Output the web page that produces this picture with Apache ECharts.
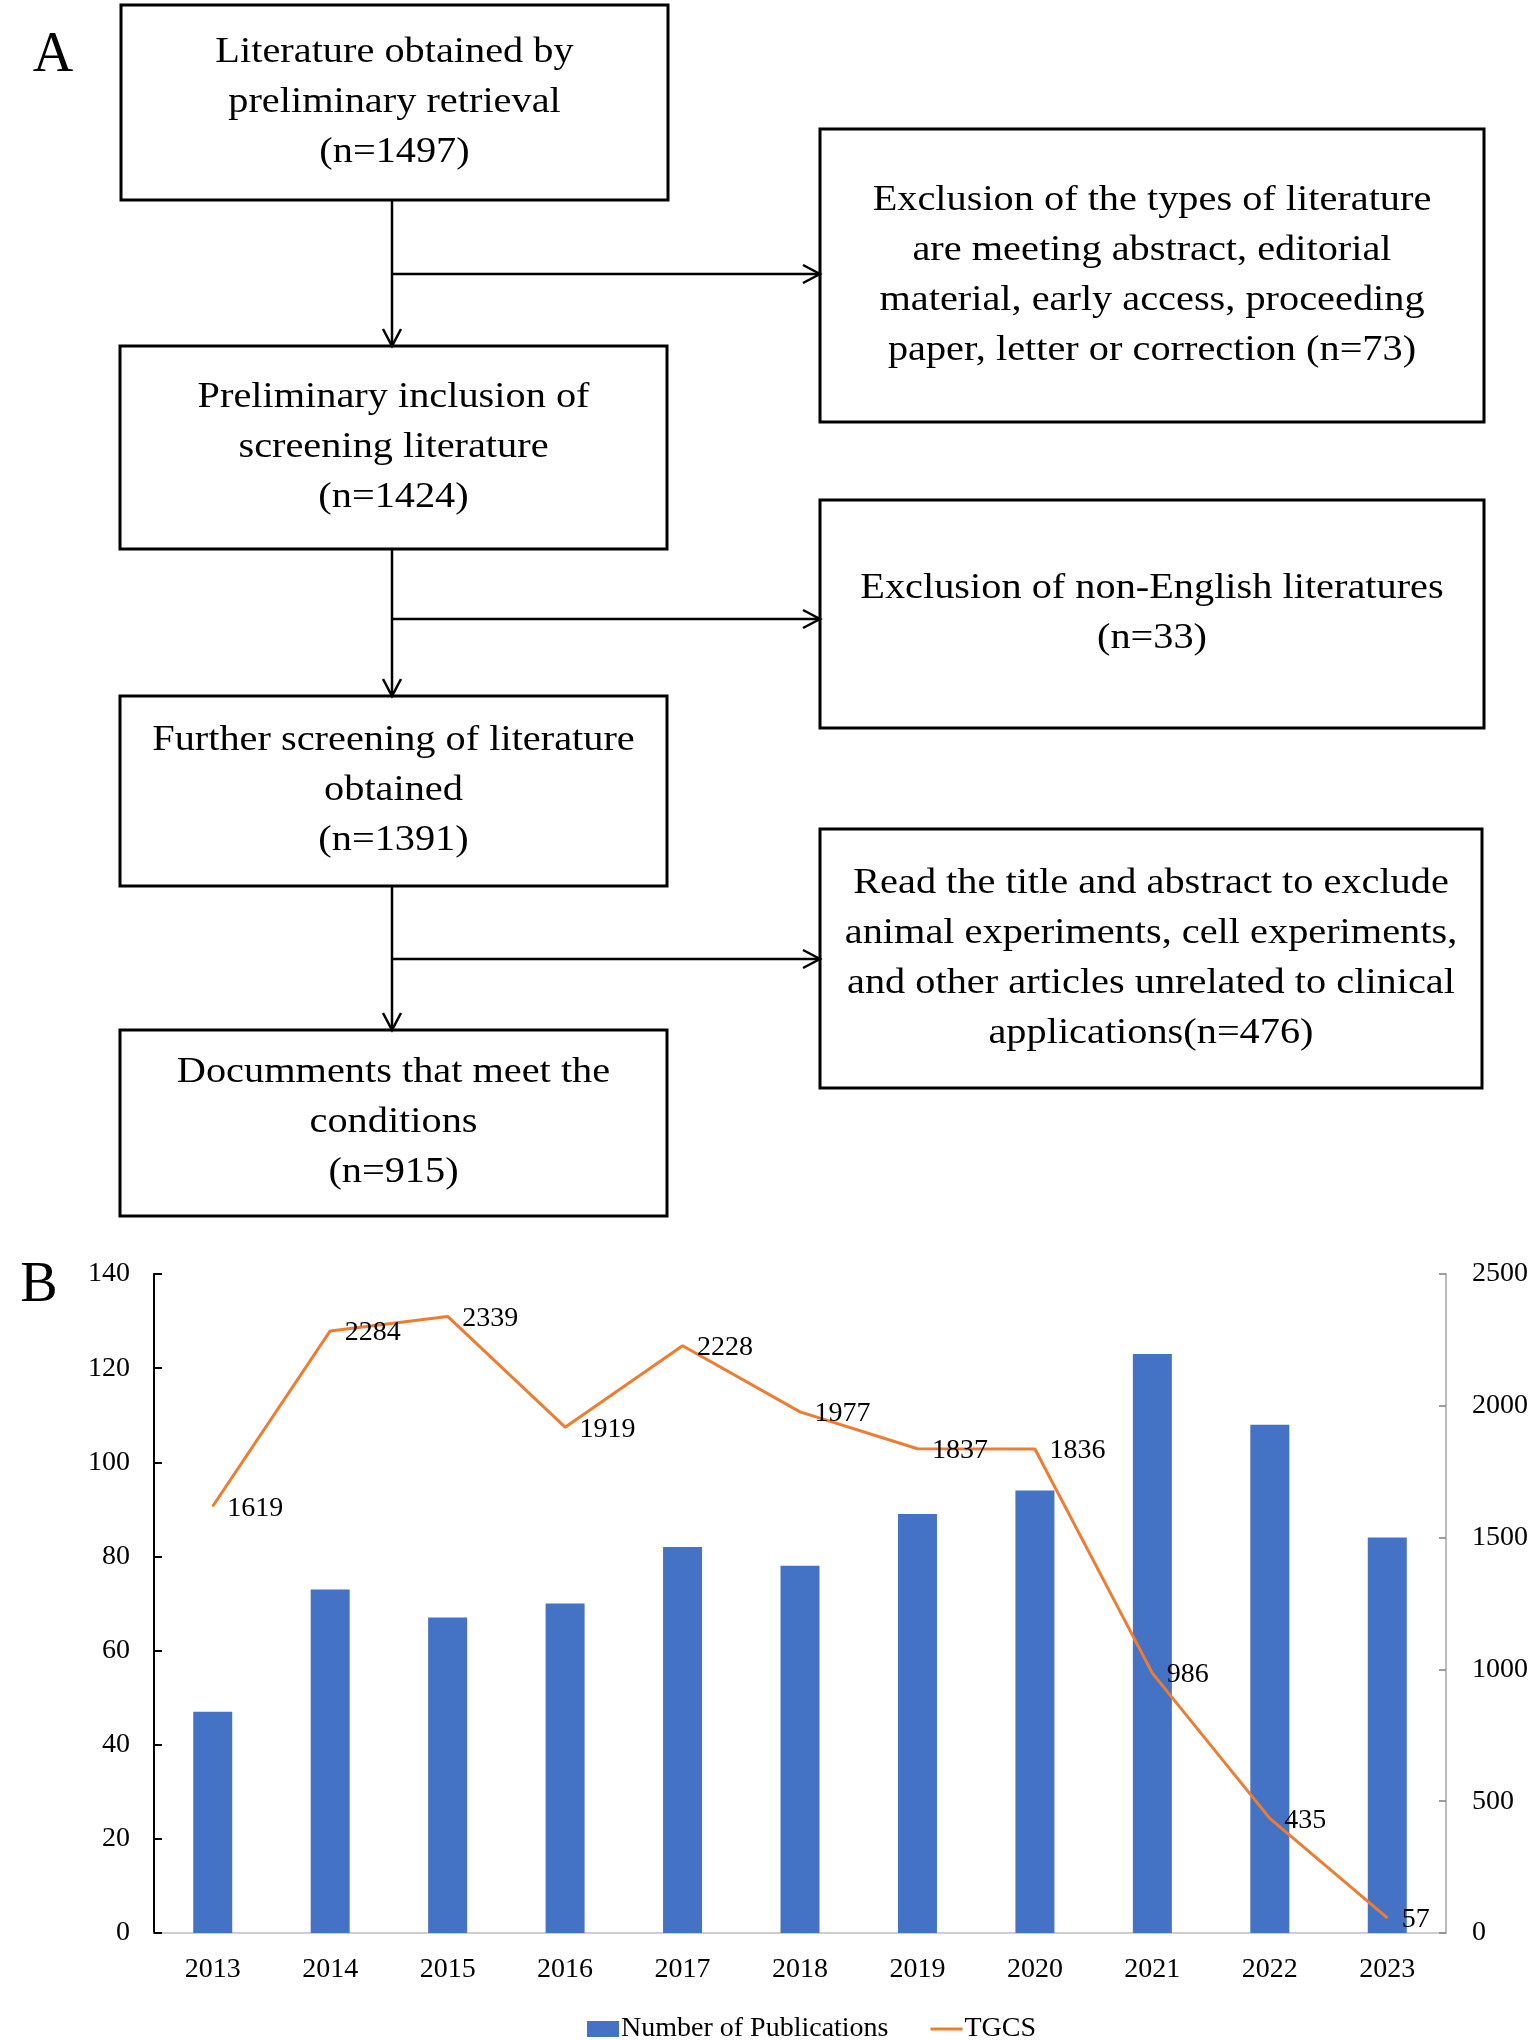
<!DOCTYPE html>
<html>
<head>
<meta charset="utf-8">
<script src="https://cdn.jsdelivr.net/npm/echarts@6/dist/echarts.min.js"></script>
<style>
html,body{margin:0;padding:0;background:#fff;}
#main{width:1535px;height:2040px;}
</style>
</head>
<body>
<div id="main"></div>
<script>
// ---- Data ----
const mainSteps = [
  ["Literature obtained by", "preliminary retrieval", "(n=1497)"],
  ["Preliminary inclusion of", "screening literature", "(n=1424)"],
  ["Further screening of literature", "obtained", "(n=1391)"],
  ["Documments that meet the", "conditions", "(n=915)"]
];
const exclusionSteps = [
  ["Exclusion of the types of literature", "are meeting abstract, editorial", "material, early access, proceeding", "paper, letter or correction (n=73)"],
  ["Exclusion of non-English literatures", "(n=33)"],
  ["Read the title and abstract to exclude", "animal experiments, cell experiments,", "and other articles unrelated to clinical", "applications(n=476)"]
];
const years = ["2013","2014","2015","2016","2017","2018","2019","2020","2021","2022","2023"];
const publications = [47, 73, 67, 70, 82, 78, 89, 94, 123, 108, 84];
const tgcs = [1619, 2284, 2339, 1919, 2228, 1977, 1837, 1836, 986, 435, 57];
const seriesNames = ["Number of Publications", "TGCS"];
const panelLabels = ["A", "B"];

// ---- Layout (flowchart) ----
const FONT = '"Liberation Serif", "Times New Roman", serif';
const mainBoxes = [
  {x:121, y:5,    w:547, h:195},
  {x:120, y:346,  w:547, h:203},
  {x:120, y:696,  w:547, h:190},
  {x:120, y:1030, w:547, h:186}
];
const exBoxes = [
  {x:820, y:129, w:664, h:293},
  {x:820, y:500, w:664, h:228},
  {x:820, y:829, w:662, h:259}
];
const branchY = [274, 619, 959];
const trunkX = 392;

const graphics = [];
function addBox(b, lines) {
  const cx = b.x + b.w/2, cy = b.y + b.h/2;
  graphics.push({
    type:'rect', shape:{x:b.x, y:b.y, width:b.w, height:b.h},
    style:{fill:'#fff', stroke:'#000', lineWidth:3}, z:1
  });
  graphics.push({
    type:'text', z:2,
    x: cx, y: cy, scaleX: 1.12, scaleY: 1,
    style:{
      text: lines.join('\n'), x: 0, y: 0,
      align:'center', verticalAlign:'middle',
      font: '36px ' + FONT, lineHeight: 50, fill:'#000'
    }
  });
}
mainSteps.forEach((l,i)=>addBox(mainBoxes[i], l));
exclusionSteps.forEach((l,i)=>addBox(exBoxes[i], l));

const AH = 17, AW = 9;
for (let i = 0; i < 3; i++) {
  const y0 = mainBoxes[i].y + mainBoxes[i].h;
  const y1 = mainBoxes[i+1].y;
  graphics.push({type:'line', shape:{x1:trunkX, y1:y0, x2:trunkX, y2:y1}, style:{stroke:'#000', lineWidth:2.5}, z:3});
  graphics.push({type:'polyline', shape:{points:[[trunkX-AW, y1-AH],[trunkX, y1],[trunkX+AW, y1-AH]]}, style:{stroke:'#000', lineWidth:2.5, fill:null}, z:3});
  const ex = exBoxes[i].x;
  graphics.push({type:'line', shape:{x1:trunkX, y1:branchY[i], x2:ex, y2:branchY[i]}, style:{stroke:'#000', lineWidth:2.5}, z:3});
  graphics.push({type:'polyline', shape:{points:[[ex-AH, branchY[i]-AW],[ex, branchY[i]],[ex-AH, branchY[i]+AW]]}, style:{stroke:'#000', lineWidth:2.5, fill:null}, z:3});
}
graphics.push({type:'text', style:{text:panelLabels[0], x:53, y:56, align:'center', verticalAlign:'middle', font:'56px ' + FONT, fill:'#000'}});
graphics.push({type:'text', style:{text:panelLabels[1], x:39, y:1286, align:'center', verticalAlign:'middle', font:'56px ' + FONT, fill:'#000'}});

const chart = echarts.init(document.getElementById('main'), null, {renderer:'canvas'});
const option = {
  backgroundColor:'#fff',
  animation:false,
  textStyle:{fontFamily: FONT},
  graphic: graphics,
  grid:{left:154, right:1535-1446, top:1274, bottom:2040-1933, containLabel:false},
  legend:{
    left:582, top:2010, itemWidth:32, itemHeight:16, itemGap:42,
    textStyle:{fontFamily:FONT, fontSize:28, color:'#000', padding:[0,0,0,-3]},
    data:[
      {name:seriesNames[0], icon:'rect'},
      {name:seriesNames[1], icon:'path://M0 0H40V4H0Z'}
    ]
  },
  xAxis:{
    type:'category', data:years, boundaryGap:true,
    axisLine:{show:true, lineStyle:{color:'#bfbfbf', width:1.5}},
    axisTick:{show:false},
    axisLabel:{fontFamily:FONT, fontSize:28, color:'#000', margin:23}
  },
  yAxis:[
    {
      type:'value', min:0, max:140, interval:20, position:'left',
      axisLine:{show:true, lineStyle:{color:'#000', width:2}},
      axisTick:{show:true, inside:true, length:8, lineStyle:{color:'#000', width:2}},
      splitLine:{show:false},
      axisLabel:{fontFamily:FONT, fontSize:28, color:'#000', margin:24}
    },
    {
      type:'value', min:0, max:2500, interval:500, position:'right',
      axisLine:{show:true, lineStyle:{color:'#a6a6a6', width:1.5}},
      axisTick:{show:true, inside:true, length:7, lineStyle:{color:'#808080', width:1.5}},
      splitLine:{show:false},
      axisLabel:{fontFamily:FONT, fontSize:28, color:'#000', margin:26, formatter: v => String(v)}
    }
  ],
  series:[
    {
      name:seriesNames[0], type:'bar', data:publications, yAxisIndex:0,
      barWidth:39, itemStyle:{color:'#4472C4'}, z:2
    },
    {
      name:seriesNames[1], type:'line', data:tgcs, yAxisIndex:1,
      symbol:'circle', symbolSize:1, showSymbol:true,
      itemStyle:{color:'#ED7D31'},
      lineStyle:{color:'#ED7D31', width:3},
      label:{show:true, position:'right', distance:14, offset:[0,2], fontFamily:FONT, fontSize:28, color:'#000'},
      z:3
    }
  ]
};
chart.setOption(option);
</script>
</body>
</html>
